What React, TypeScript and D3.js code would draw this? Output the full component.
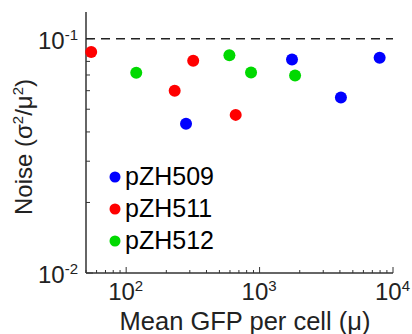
import React, { useEffect, useRef } from "react";
import * as d3 from "d3";

// mean GFP per cell (μ) and noise (σ²/μ²)
const seriesNames = ["pZH509", "pZH511", "pZH512"];
const seriesColors = ["#0000ff", "#ff0000", "#00d900"];

const meanPZH509 = [281, 1750, 4070, 7940];
const noisePZH509 = [0.0434, 0.0816, 0.0561, 0.0829];

const meanPZH511 = [54.7, 231, 318, 662];
const noisePZH511 = [0.0877, 0.06, 0.0805, 0.0473];

const meanPZH512 = [119, 594, 863, 1845];
const noisePZH512 = [0.0716, 0.0849, 0.0718, 0.0697];

const yTicks = [0.01, 0.1];
const xTicks = [100, 1000, 10000];
const refNoise = 0.1;

const App = () => {
  const svgRef = useRef<SVGSVGElement | null>(null);
  const width = 412;
  const height = 334;

  useEffect(() => {
    const svg = d3.select(svgRef.current);
    svg.selectAll("*").remove();

    const font = "'Liberation Sans', Arial, Helvetica, sans-serif";
    const axisColor = "#333";

    const x = d3.scaleLog().domain([50, 10000]).range([86, 393]);
    const y = d3.scaleLog().domain([0.01, 0.13]).range([273, 12]);

    const g = svg.append("g");

    // minor ticks
    const xMinor: number[] = [];
    for (let d = 1; d <= 3; d++) {
      for (let k = 1; k <= 9; k++) {
        const v = k * Math.pow(10, d);
        if (v >= 50 && v <= 10000) xMinor.push(v);
      }
    }
    xMinor.push(10000);
    const yMinor: number[] = [];
    for (let k = 1; k <= 9; k++) yMinor.push(k * 0.01);
    yMinor.push(0.1);

    g.selectAll("line.xminor")
      .data(xMinor)
      .enter()
      .append("line")
      .attr("x1", (d) => x(d))
      .attr("x2", (d) => x(d))
      .attr("y1", 273)
      .attr("y2", (d) => (xTicks.includes(d) ? 267 : 270))
      .attr("stroke", axisColor)
      .attr("stroke-width", 1);

    g.selectAll("line.yminor")
      .data(yMinor)
      .enter()
      .append("line")
      .attr("x1", 86)
      .attr("x2", (d) => (yTicks.includes(d) ? 93 : 90))
      .attr("y1", (d) => y(d))
      .attr("y2", (d) => y(d))
      .attr("stroke", axisColor)
      .attr("stroke-width", 1);

    // axis lines
    g.append("line")
      .attr("x1", 86)
      .attr("x2", 86)
      .attr("y1", y(0.13))
      .attr("y2", 273)
      .attr("stroke", axisColor)
      .attr("stroke-width", 1.5);
    g.append("line")
      .attr("x1", 86)
      .attr("x2", 393)
      .attr("y1", 273)
      .attr("y2", 273)
      .attr("stroke", axisColor)
      .attr("stroke-width", 1.5);

    // reference dashed line
    g.append("line")
      .attr("x1", 86)
      .attr("x2", 393)
      .attr("y1", y(refNoise))
      .attr("y2", y(refNoise))
      .attr("stroke", "#222")
      .attr("stroke-width", 1.5)
      .attr("stroke-dasharray", "9,6");

    // tick labels
    yTicks.forEach((v) => {
      const t = g
        .append("text")
        .attr("x", 78)
        .attr("y", y(v) + 10)
        .attr("text-anchor", "end")
        .attr("font-family", font)
        .attr("font-size", 24)
        .attr("fill", "#222");
      t.append("tspan").text("10");
      t.append("tspan")
        .attr("dy", -9)
        .attr("font-size", 15)
        .text(String(Math.round(Math.log10(v))));
    });

    xTicks.forEach((v) => {
      const t = g
        .append("text")
        .attr("x", x(v) - 18)
        .attr("y", 300)
        .attr("font-family", font)
        .attr("font-size", 24)
        .attr("fill", "#222");
      t.append("tspan").text("10");
      t.append("tspan")
        .attr("dy", -9)
        .attr("font-size", 15)
        .text(String(Math.round(Math.log10(v))));
    });

    // axis labels
    svg
      .append("text")
      .attr("x", 245)
      .attr("y", 330)
      .attr("text-anchor", "middle")
      .attr("font-family", font)
      .attr("font-size", 25.5)
      .attr("fill", "#222")
      .text("Mean GFP per cell (\u03bc)");

    const yl = svg
      .append("text")
      .attr("transform", "translate(32,147) rotate(-90)")
      .attr("text-anchor", "middle")
      .attr("font-family", font)
      .attr("font-size", 24)
      .attr("fill", "#222");
    yl.append("tspan").text("Noise (\u03c3");
    yl.append("tspan").attr("dy", -9).attr("font-size", 15).text("2");
    yl.append("tspan").attr("dy", 9).text("/\u03bc");
    yl.append("tspan").attr("dy", -9).attr("font-size", 15).text("2");
    yl.append("tspan").attr("dy", 9).text(")");

    // points
    const series = [
      { means: meanPZH509, noise: noisePZH509 },
      { means: meanPZH511, noise: noisePZH511 },
      { means: meanPZH512, noise: noisePZH512 },
    ];
    series.forEach((s, i) => {
      g.selectAll(`circle.s${i}`)
        .data(s.means.map((m, j) => [m, s.noise[j]]))
        .enter()
        .append("circle")
        .attr("cx", (d) => x(d[0]))
        .attr("cy", (d) => y(d[1]))
        .attr("r", 6)
        .attr("fill", seriesColors[i]);
    });

    // legend
    seriesNames.forEach((name, i) => {
      const ly = 177 + i * 32;
      g.append("circle")
        .attr("cx", 115)
        .attr("cy", ly)
        .attr("r", 5.5)
        .attr("fill", seriesColors[i]);
      g.append("text")
        .attr("x", 125)
        .attr("y", ly + 8)
        .attr("font-family", font)
        .attr("font-size", 25)
        .attr("fill", "#000")
        .text(name);
    });
  }, []);

  return (
    <svg
      ref={svgRef}
      width={width}
      height={height}
      style={{ position: "absolute", left: 0, top: 0, background: "#fff" }}
    ></svg>
  );
};

export default App;
